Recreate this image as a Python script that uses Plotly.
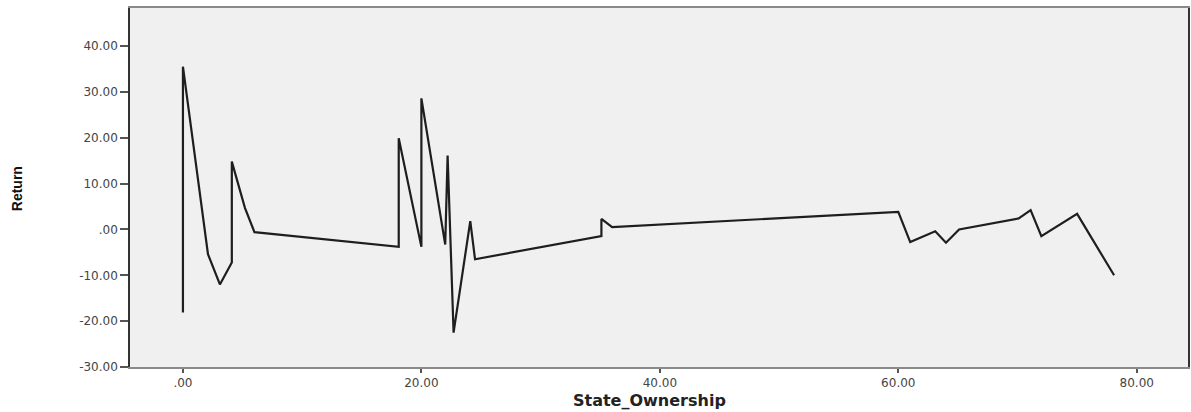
import plotly.graph_objects as go

state_ownership = [0.0, 0.0, 2.1, 3.1, 4.1, 4.1, 5.2, 6.0, 18.1, 18.1, 20.0, 20.0, 22.0, 22.2, 22.7,
                   24.1, 24.5, 35.1, 35.1, 36.0, 60.0, 61.0, 63.1, 64.0, 65.1, 70.1, 71.1, 72.0, 75.0, 78.1]
returns = [-18.1, 35.5, -5.4, -12.0, -7.2, 14.8, 4.7, -0.6, -3.8, 19.9, -3.8, 28.6, -3.3, 16.1, -22.5,
           1.8, -6.5, -1.45, 2.3, 0.5, 3.85, -2.75, -0.4, -2.9, 0.0, 2.4, 4.2, -1.45, 3.4, -10.0]

y_ticks = [-30, -20, -10, 0, 10, 20, 30, 40]
y_tick_text = ["-30.00", "-20.00", "-10.00", ".00", "10.00", "20.00", "30.00", "40.00"]
x_ticks = [0, 20, 40, 60, 80]
x_tick_text = [".00", "20.00", "40.00", "60.00", "80.00"]

fig = go.Figure()
fig.add_trace(go.Scatter(
    x=state_ownership, y=returns, mode="lines",
    line=dict(color="#1e1e1e", width=2.2),
    showlegend=False, hoverinfo="skip",
))

tick_font = dict(family="DejaVu Sans, Verdana, sans-serif", size=12, color="#444")

fig.update_layout(
    width=1191, height=412,
    margin=dict(l=130, r=1, t=8, b=45),
    paper_bgcolor="white",
    plot_bgcolor="#f0f0f0",
    xaxis=dict(
        range=[-4.44, 84.3], tickvals=x_ticks, ticktext=x_tick_text,
        showgrid=False, zeroline=False,
        showline=True, linecolor="#8a8a8a", linewidth=1.5, mirror=True,
        ticks="outside", ticklen=4, tickcolor="#555", tickwidth=1.5,
        tickfont=tick_font,
    ),
    yaxis=dict(
        range=[-30, 48.3], tickvals=y_ticks, ticktext=y_tick_text,
        showgrid=False, zeroline=False,
        showline=True, linecolor="#333", linewidth=1.5, mirror=True,
        ticks="outside", ticklen=8, tickcolor="#555", tickwidth=1.5,
        tickfont=tick_font,
    ),
    annotations=[
        dict(text="State_Ownership", xref="paper", yref="paper",
             x=(650 - 130) / (1191 - 131), y=-(400 - 367) / (412 - 53),
             xanchor="center", yanchor="middle", showarrow=False,
             font=dict(family="DejaVu Sans, Verdana, sans-serif", size=16, color="#222", weight="bold")),
        dict(text="Return", xref="paper", yref="paper",
             x=-(130 - 17) / (1191 - 131), y=(367 - 189) / (412 - 53),
             xanchor="center", yanchor="middle", showarrow=False, textangle=-90,
             font=dict(family="Liberation Sans, Arial, sans-serif", size=14, color="#111", weight="bold")),
    ],
)

fig.write_html("out.html")
